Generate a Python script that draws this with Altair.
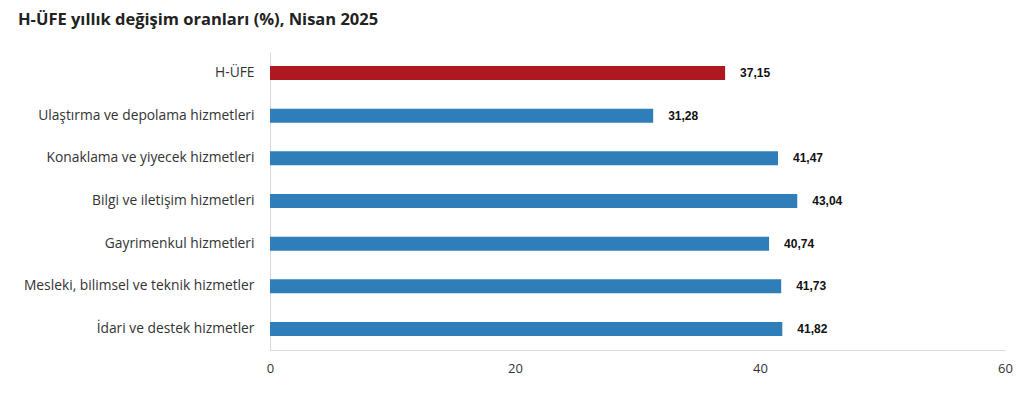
import altair as alt
import pandas as pd

categories = [
    "H-ÜFE",
    "Ulaştırma ve depolama hizmetleri",
    "Konaklama ve yiyecek hizmetleri",
    "Bilgi ve iletişim hizmetleri",
    "Gayrimenkul hizmetleri",
    "Mesleki, bilimsel ve teknik hizmetler",
    "İdari ve destek hizmetler",
]
values = [37.15, 31.28, 41.47, 43.04, 40.74, 41.73, 41.82]
groups = ["total", "sector", "sector", "sector", "sector", "sector", "sector"]
x_ticks = [0, 20, 40, 60]

df = pd.DataFrame({
    "cat": categories,
    "val": values,
    "grp": groups,
    "lbl": [f"{v:.2f}".replace(".", ",") for v in values],
})

y_enc = alt.Y("cat:N", sort=categories, title=None,
              scale=alt.Scale(paddingInner=0.67, paddingOuter=0.33),
              axis=alt.Axis(labelFont="Open Sans", labelFontSize=13.8, labelColor="#333333",
                            labelPadding=16, ticks=False, domain=True, domainColor="#d9d9d9",
                            labelLimit=300))
x_enc = alt.X("val:Q", title=None,
              scale=alt.Scale(domain=[0, 60], nice=False),
              axis=alt.Axis(values=x_ticks, grid=False, ticks=False, domain=True,
                            domainColor="#d9d9d9", labelFont="Open Sans", labelFontSize=13,
                            labelColor="#333333", labelPadding=12, labelFlush=False))

bars = alt.Chart(df).mark_bar(size=14).encode(
    y=y_enc, x=x_enc,
    color=alt.Color("grp:N", scale=alt.Scale(domain=["total", "sector"],
                                             range=["#AE1820", "#2F7EBA"]), legend=None),
)
labels = alt.Chart(df).mark_text(align="left", dx=15, font="Liberation Sans", fontSize=12,
                                 fontWeight="bold", color="#111111").encode(
    y=alt.Y("cat:N", sort=categories), x="val:Q", text="lbl:N")

chart = (bars + labels).properties(
    width=735, height=298,
    autosize=alt.AutoSizeParams(type="none"),
    padding={"left": 262, "top": 44, "right": 11, "bottom": 46},
    title=alt.TitleParams("H-ÜFE yıllık değişim oranları (%), Nisan 2025", anchor="start",
                          frame="group", dx=-252, offset=24, font="Open Sans",
                          fontSize=16.5, fontWeight="bold", color="#222222"),
).configure_view(stroke=None)

chart.save("out.html", embed_options={"renderer": "svg", "actions": False})
